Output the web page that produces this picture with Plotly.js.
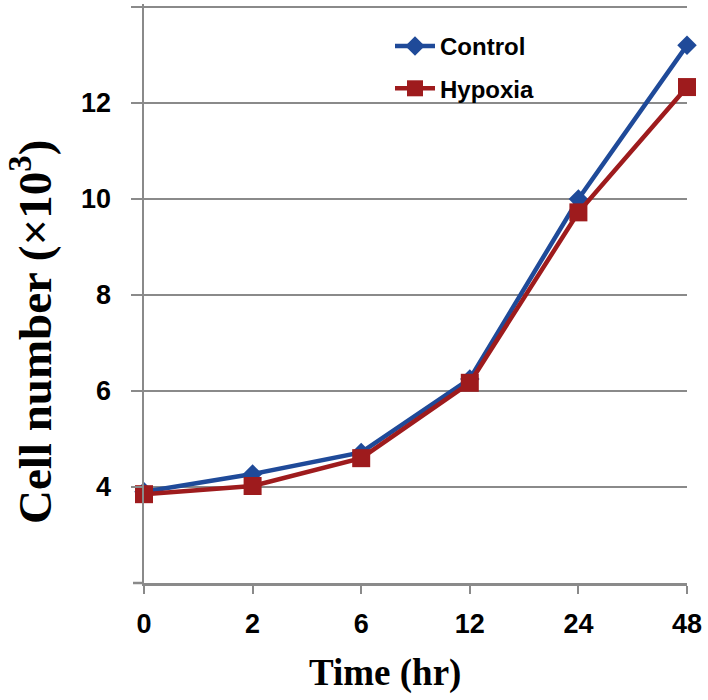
<!DOCTYPE html>
<html>
<head>
<meta charset="utf-8">
<script src="https://cdn.plot.ly/plotly-3.0.1.min.js"></script>
<style>html,body{margin:0;padding:0;background:#fff;}#chart{width:708px;height:700px;}</style>
</head>
<body>
<div id="chart"></div>
<script>
// Data
const timeLabels = ['0', '2', '6', '12', '24', '48'];
const controlValues = [3.90, 4.27, 4.72, 6.25, 10.0, 13.2];
const hypoxiaValues = [3.85, 4.02, 4.60, 6.17, 9.72, 12.33];
const yTickVals = [4, 6, 8, 10, 12, 14];
const yTickText = ['4', '6', '8', '10', '12', ' '];
const yRange = [2, 14.06];

const W = 708, H = 700;
const M = {l: 144, r: 21, t: 4, b: 117};
const pw = W - M.l - M.r, ph = H - M.t - M.b;
const px2x = x => (x - M.l) / pw;
const px2y = y => (H - M.b - y) / ph;

const gridCol = '#8a8a8a';
const tickFont = {family: 'Liberation Sans, Arial, sans-serif', size: 27, color: '#000', weight: 'bold'};
const titleFont = {family: 'Liberation Serif, Times New Roman, serif', color: '#000', weight: 'bold'};

const traces = [
  {
    x: timeLabels, y: controlValues, name: 'Control', type: 'scatter', mode: 'lines+markers',
    line: {color: '#1f4a99', width: 4.5},
    marker: {symbol: 'diamond', size: 15, color: '#1f4a99'},
    cliponaxis: false, legendgroup: 'a'
  },
  {
    x: timeLabels, y: hypoxiaValues, name: 'Hypoxia', type: 'scatter', mode: 'lines+markers',
    line: {color: '#9e1b1d', width: 4.5},
    marker: {symbol: 'square', size: 18, color: '#9e1b1d'},
    cliponaxis: false, legendgroup: 'b'
  }
];

const tickOut = -11 / pw;
const layout = {
  width: W, height: H,
  margin: M,
  paper_bgcolor: '#fff', plot_bgcolor: '#fff',
  showlegend: true,
  legend: {
    x: px2x(390), y: px2y(24), xanchor: 'left', yanchor: 'top',
    bgcolor: 'rgba(0,0,0,0)', borderwidth: 0,
    font: {family: 'Liberation Sans, Arial, sans-serif', size: 24, color: '#000', weight: 'bold'},
    traceorder: 'grouped', tracegroupgap: 8, itemwidth: 40
  },
  xaxis: {
    type: 'category', categoryorder: 'array', categoryarray: timeLabels,
    range: [0, 5], showgrid: false, zeroline: false,
    showline: true, linecolor: gridCol, linewidth: 2.5,
    ticks: 'outside', ticklen: 8, tickwidth: 2, tickcolor: gridCol,
    tickfont: tickFont, ticklabelstandoff: 7, fixedrange: true
  },
  yaxis: {
    range: yRange, tickvals: yTickVals, ticktext: yTickText,
    showgrid: true, gridcolor: gridCol, gridwidth: 2.5, zeroline: false,
    showline: true, linecolor: gridCol, linewidth: 2.5,
    ticks: 'outside', ticklen: 11, tickwidth: 2.5, tickcolor: gridCol,
    tickfont: tickFont, ticklabelstandoff: 14, fixedrange: true
  },
  shapes: [
    // outside tick at the lower end of the y range
    {type: 'line', xref: 'paper', yref: 'paper', x0: tickOut, x1: 0, y0: 0, y1: 0,
     line: {color: gridCol, width: 2.5}, layer: 'above'}
  ],
  annotations: [
    {
      text: 'Time (hr)', xref: 'paper', yref: 'paper', x: px2x(385), y: px2y(673),
      xanchor: 'center', yanchor: 'middle', showarrow: false,
      font: Object.assign({size: 37}, titleFont)
    },
    {
      text: 'Cell number (×10<sup>3</sup>)', xref: 'paper', yref: 'paper', x: px2x(31), y: px2y(332),
      xanchor: 'center', yanchor: 'middle', showarrow: false, textangle: -90,
      font: Object.assign({size: 47}, titleFont)
    }
  ]
};

Plotly.newPlot('chart', traces, layout, {displayModeBar: false, staticPlot: true});
</script>
</body>
</html>
